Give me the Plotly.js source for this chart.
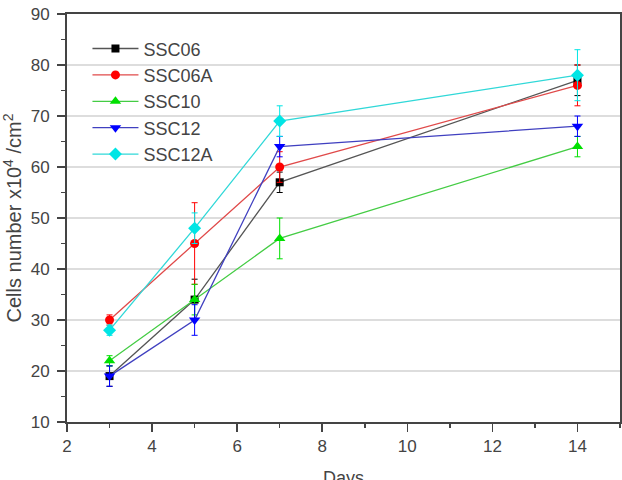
<!DOCTYPE html>
<html>
<head>
<meta charset="utf-8">
<script src="https://cdn.plot.ly/plotly-3.0.1.min.js"></script>
<style>
  html, body { margin: 0; padding: 0; background: #fff; }
  #chart { width: 622px; height: 480px; }
</style>
</head>
<body>
<div id="chart"></div>
<script>
// Culture days
const days = [3, 5, 7, 14];

// Cell counts (x10^4 /cm^2) and standard deviations per cell line
const ssc06 = [19, 34, 57, 77];
const ssc06Err = [2, 4, 2, 3];
const ssc06a = [30, 45, 60, 76];
const ssc06aErr = [1, 8, 3, 4];
const ssc10 = [22, 34, 46, 64];
const ssc10Err = [1, 3, 4, 2];
const ssc12 = [19, 30, 64, 68];
const ssc12Err = [2, 3, 2, 2];
const ssc12a = [28, 48, 69, 78];
const ssc12aErr = [1, 3, 3, 5];

const seriesNames = ['SSC06', 'SSC06A', 'SSC10', 'SSC12', 'SSC12A'];
const xTitle = 'Days';

function series(name, y, err, lineColor, markerColor, symbol, size) {
  return {
    x: days, y: y, name: name, type: 'scatter', mode: 'lines+markers',
    line: { color: lineColor, width: 1.3 },
    marker: { color: markerColor, symbol: symbol, size: size },
    error_y: { type: 'data', array: err, visible: true, color: markerColor, thickness: 1, width: 3 }
  };
}

const traces = [
  series(seriesNames[0], ssc06, ssc06Err, '#555555', '#000000', 'square', 8),
  series(seriesNames[1], ssc06a, ssc06aErr, '#e04a4a', '#ff0000', 'circle', 9),
  series(seriesNames[2], ssc10, ssc10Err, '#44cc44', '#00e000', 'triangle-up', 10),
  series(seriesNames[3], ssc12, ssc12Err, '#4040c0', '#0000ff', 'triangle-down', 10),
  series(seriesNames[4], ssc12a, ssc12aErr, '#30d8d8', '#00e5e5', 'diamond', 10)
];

const fam = 'Liberation Sans, Arial, sans-serif';
const axisFont = { family: fam, size: 17, color: '#444' };

const layout = {
  width: 622, height: 480,
  margin: { l: 67, r: 2, t: 14, b: 58 },
  paper_bgcolor: '#fff', plot_bgcolor: '#fff',
  showlegend: true,
  legend: {
    x: 0.037, y: 0.96, xanchor: 'left', yanchor: 'top',
    bgcolor: 'rgba(0,0,0,0)', borderwidth: 0,
    font: { family: fam, size: 18, color: '#444' },
    itemwidth: 46, tracegroupgap: 0
  },
  xaxis: {
    range: [2, 15], tickmode: 'linear', tick0: 2, dtick: 2,
    showgrid: false, zeroline: false,
    showline: true, linecolor: '#444', linewidth: 2, mirror: true,
    ticks: 'outside', ticklen: 8, tickwidth: 1.5, tickcolor: '#444',
    minor: { dtick: 1, ticks: 'outside', ticklen: 4, tickwidth: 1.5, tickcolor: '#444', showgrid: false },
    tickfont: axisFont
  },
  yaxis: {
    range: [10, 90], tickmode: 'linear', tick0: 10, dtick: 10,
    showgrid: true, gridcolor: '#dddddd', gridwidth: 1.5, zeroline: false,
    showline: true, linecolor: '#444', linewidth: 2, mirror: true,
    ticks: 'outside', ticklen: 8, tickwidth: 1.5, tickcolor: '#444',
    ticklabelstandoff: 4,
    minor: { dtick: 5, ticks: 'outside', ticklen: 4, tickwidth: 1.5, tickcolor: '#444', showgrid: false },
    tickfont: axisFont,
    title: { text: 'Cells number x10<sup>4</sup> /cm<sup>2</sup>', font: { family: fam, size: 20, color: '#444' }, standoff: 4 }
  },
  // x-axis title sits low, partly below the page edge
  annotations: [{
    text: xTitle, xref: 'paper', yref: 'paper', x: 0.5, y: -0.137,
    xanchor: 'center', yanchor: 'middle', showarrow: false,
    font: { family: fam, size: 18, color: '#444' }
  }]
};

Plotly.newPlot('chart', traces, layout, { displayModeBar: false, staticPlot: true });
</script>
</body>
</html>
